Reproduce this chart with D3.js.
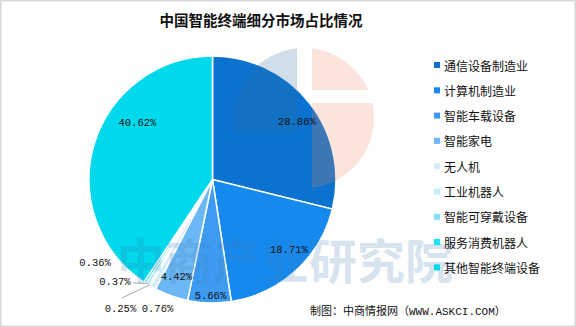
<!DOCTYPE html>
<html><head><meta charset="utf-8">
<script src="https://cdn.jsdelivr.net/npm/d3@7"></script>
<style>html,body{margin:0;padding:0;background:#fff;}svg{display:block;}</style>
</head><body>
<script>
const categories = ["通信设备制造业","计算机制造业","智能车载设备","智能家电","无人机","工业机器人","智能可穿戴设备","服务消费机器人","其他智能终端设备"];
const values = [28.86, 18.71, 5.66, 4.42, 0.76, 0.25, 0.37, 0.36, 40.62];
const valueLabels = ["28.86%","18.71%","5.66%","4.42%","0.76%","0.25%","0.37%","0.36%","40.62%"];
const colors = ["#0b72cf","#1589ee","#3d9cf2","#6cb8f6","#d6ecfb","#c2edfa","#80e0f6","#1fe3f1","#00d9ec"];
const title = "中国智能终端细分市场占比情况";
const source = "制图：中商情报网（WWW.ASKCI.COM）";
const watermark = "中商产业研究院";

// label layout (radius, angle in degrees from 12 o'clock)
const labelPolar = [[102,55.8],[104,132.7],[116.5,181],[104,200.3],[140.7,203],[158.9,215.4],[141.5,223.6],[144,234.6],[94,307]];
const leaderIdx = [5,6];

const W = 576, H = 327;
const cx = 212.5, cy = 179.5, R = 123.5;
const svg = d3.select("body").append("svg").attr("width", W).attr("height", H);

svg.append("rect").attr("x",0.75).attr("y",0.75).attr("width",W-1.5).attr("height",H-1.5)
  .attr("fill","#fff").attr("stroke","#d9d9d9").attr("stroke-width",1.5);

svg.append("text").attr("x",261).attr("y",26).attr("text-anchor","middle")
  .attr("font-family","'Noto Sans CJK SC', sans-serif").attr("font-weight","bold")
  .attr("font-size",14.5).attr("fill","#111").text(title);

const g = svg.append("g").attr("transform",`translate(${cx},${cy})`);
const pie = d3.pie().sort(null).value(d=>d);
const arcs = pie(values);
const arc = d3.arc().innerRadius(0).outerRadius(R);
g.selectAll("path.slice").data(arcs).enter().append("path").attr("class","slice")
  .attr("d",arc).attr("fill",(d,i)=>colors[i]).attr("stroke","#fff").attr("stroke-width",1.5);

// watermark logo (faint)
const logo = svg.append("g").attr("opacity",0.22);
const lcx = 304, lcy = 118, lr = 70;
const defs = svg.append("defs");
defs.append("clipPath").attr("id","cl").append("circle").attr("cx",lcx).attr("cy",lcy).attr("r",lr);
const lg = logo.append("g").attr("clip-path","url(#cl)");
lg.append("rect").attr("x",lcx-lr).attr("y",lcy-lr).attr("width",297-(lcx-lr)).attr("height",lr*1.2).attr("fill","#2f6f9f");
lg.append("rect").attr("x",312).attr("y",lcy-lr).attr("width",lr).attr("height",90-(lcy-lr)).attr("fill","#ec8a60");
lg.append("rect").attr("x",312).attr("y",103).attr("width",lr).attr("height",lr*2).attr("fill","#ec8a60");

svg.append("text").attr("x",285).attr("y",279).attr("text-anchor","middle")
  .attr("font-family","'Noto Sans CJK SC', sans-serif").attr("font-weight","bold")
  .attr("font-size",48).attr("fill","#3b7db5").attr("opacity",0.2).text(watermark);

// labels
const lbl = svg.append("g");
const pos = labelPolar.map(([r,a])=>{const t=a*Math.PI/180;return [cx+r*Math.sin(t), cy-r*Math.cos(t)];});
leaderIdx.forEach(i=>{
  const d = arcs[i]; const m=(d.startAngle+d.endAngle)/2; const rr=R*0.99;
  const ex = cx+rr*Math.sin(m), ey = cy-rr*Math.cos(m);
  const [px,py]=pos[i];
  const sx = i===6 ? px+18 : px+1.5;
  const sy = i===6 ? py+1 : py-11;
  lbl.append("line").attr("x1",sx).attr("y1",sy).attr("x2",ex).attr("y2",ey)
    .attr("stroke","#aaa").attr("stroke-width",1);
});
lbl.selectAll("text").data(valueLabels).enter().append("text")
  .attr("x",(d,i)=>pos[i][0]).attr("y",(d,i)=>pos[i][1])
  .attr("text-anchor","middle").attr("dominant-baseline","central")
  .attr("font-family","'Liberation Mono', monospace").attr("font-size",10.5).attr("fill","#111")
  .text(d=>d);

// legend
const leg = svg.append("g");
categories.forEach((c,i)=>{
  const y = 65 + i*25.3;
  leg.append("rect").attr("x",434).attr("y",y-3).attr("width",6).attr("height",6).attr("fill",colors[i]);
  leg.append("text").attr("x",444).attr("y",y).attr("dominant-baseline","central")
    .attr("font-family","'Noto Sans CJK SC', sans-serif").attr("font-size",12).attr("fill","#111").text(c);
});

svg.append("text").attr("x",310).attr("y",312).attr("dominant-baseline","central")
  .attr("font-family","'Liberation Mono', 'Noto Sans CJK SC', monospace").attr("font-size",11).attr("fill","#111").text(source);
</script>
</body></html>
